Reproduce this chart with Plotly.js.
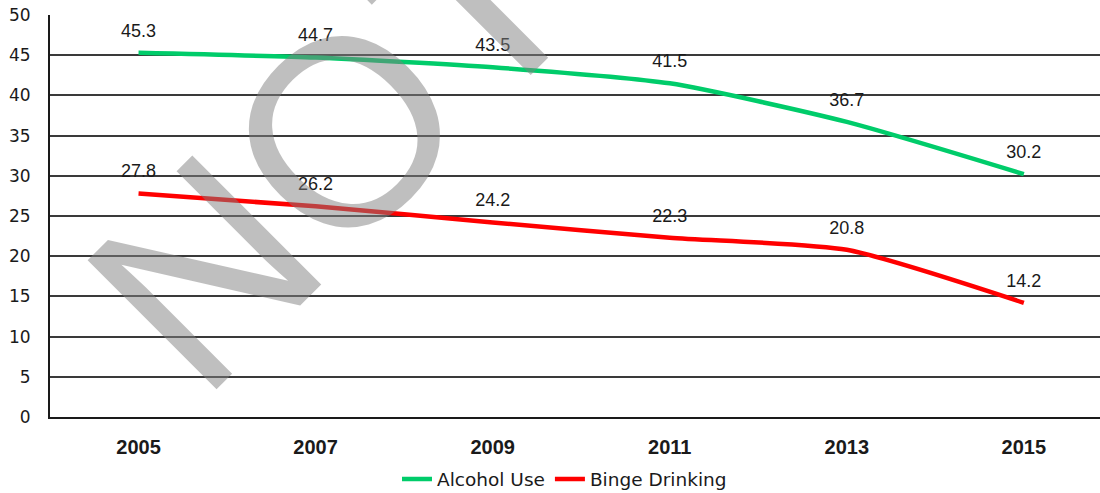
<!DOCTYPE html>
<html>
<head>
<meta charset="utf-8">
<script src="https://cdn.plot.ly/plotly-3.0.1.min.js"></script>
<style>html,body{margin:0;padding:0;background:#fff;}#chart{width:1100px;height:493px;}</style>
</head>
<body>
<div id="chart"></div>
<script>
const years = ['2005', '2007', '2009', '2011', '2013', '2015'];
const alcoholUse = [45.3, 44.7, 43.5, 41.5, 36.7, 30.2];
const bingeDrinking = [27.8, 26.2, 24.2, 22.3, 20.8, 14.2];
const seriesNames = ['Alcohol Use', 'Binge Drinking'];
const yTicks = [0, 5, 10, 15, 20, 25, 30, 35, 40, 45, 50];
const watermark = 'NOT';

function series(name, values, color) {
  return {
    type: 'scatter',
    mode: 'lines+markers+text',
    name: name,
    x: years,
    y: values,
    text: values.map(v => v.toFixed(1)),
    textposition: 'top center',
    textfont: {family: 'Liberation Sans, Arial, sans-serif', size: 18, color: '#1a1a1a'},
    line: {color: color, width: 4.5, shape: 'spline', smoothing: 0.6},
    marker: {size: 17, color: 'rgba(0,0,0,0)'},
    cliponaxis: false,
    hoverinfo: 'skip'
  };
}

const data = [
  series(seriesNames[0], alcoholUse, '#00cc6a'),
  series(seriesNames[1], bingeDrinking, '#ff0000')
];

const layout = {
  width: 1100,
  height: 493,
  margin: {l: 50, r: 0, t: 15, b: 76, autoexpand: false},
  paper_bgcolor: '#ffffff',
  plot_bgcolor: '#ffffff',
  showlegend: true,
  legend: {
    orientation: 'h',
    x: 0.49, xanchor: 'center',
    y: -0.108, yanchor: 'top',
    font: {family: 'DejaVu Sans, sans-serif', size: 18.5, color: '#1a1a1a'},
    itemwidth: 30,
    tracegroupgap: 0
  },
  xaxis: {
    type: 'category',
    range: [-0.5, 5.43],
    showgrid: false,
    showline: true,
    linecolor: '#1a1a1a',
    linewidth: 2,
    ticks: '',
    ticklabelstandoff: 11,
    tickfont: {family: 'Liberation Sans, Arial, sans-serif', size: 20, color: '#1a1a1a', weight: 'bold'},
    zeroline: false,
    fixedrange: true
  },
  yaxis: {
    range: [0, 50],
    tickvals: yTicks,
    showgrid: true,
    gridcolor: '#3a3a3a',
    gridwidth: 2,
    showline: true,
    linecolor: '#1a1a1a',
    linewidth: 2,
    ticks: '',
    ticklabelstandoff: 14,
    tickfont: {family: 'DejaVu Sans, sans-serif', size: 17, color: '#1a1a1a'},
    zeroline: false,
    fixedrange: true
  },
  annotations: [{
    text: watermark,
    xref: 'paper', yref: 'paper',
    x: 0.27, y: 0.685,
    xanchor: 'center', yanchor: 'middle',
    showarrow: false,
    textangle: -45,
    font: {family: 'Liberation Sans, Arial, sans-serif', size: 265, color: 'rgba(128,128,128,0.5)'}
  }]
};

Plotly.newPlot('chart', data, layout, {displayModeBar: false, staticPlot: true});
</script>
</body>
</html>
